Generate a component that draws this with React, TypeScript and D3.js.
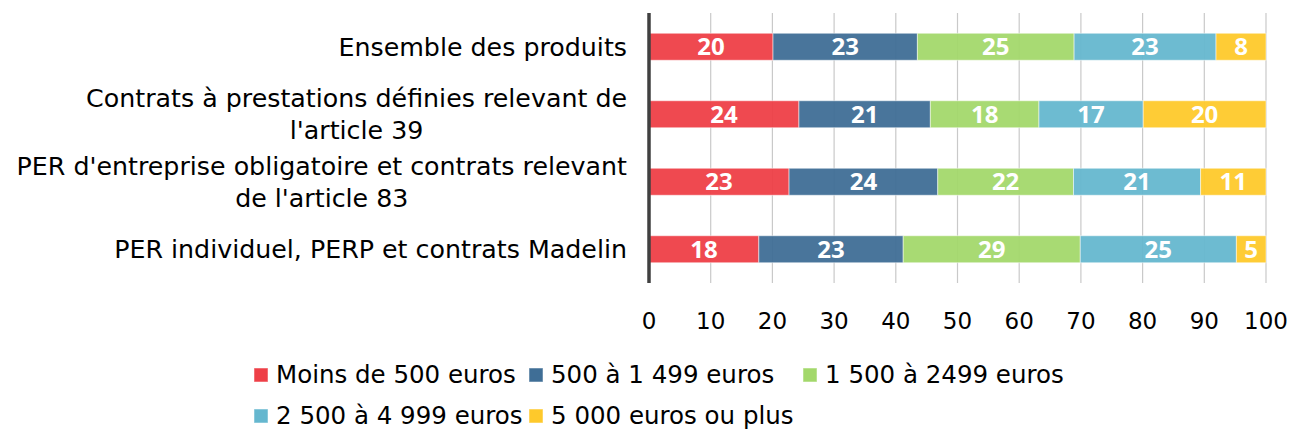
import React, { useRef, useEffect } from 'react';
import * as d3 from 'd3';

const categories = [
  "Ensemble des produits",
  "Contrats à prestations définies relevant de l'article 39",
  "PER d'entreprise obligatoire et contrats relevant de l'article 83",
  "PER individuel, PERP et contrats Madelin",
];
const categoryLines = [
  ["Ensemble des produits"],
  ["Contrats à prestations définies relevant de", "l'article 39"],
  ["PER d'entreprise obligatoire et contrats relevant", "de l'article 83"],
  ["PER individuel, PERP et contrats Madelin"],
];

const seriesNames = [
  "Moins de 500 euros",
  "500 à 1 499 euros",
  "1 500 à 2499 euros",
  "2 500 à 4 999 euros",
  "5 000 euros ou plus",
];
const seriesColors = ["#ee3f47", "#3f6e96", "#a3d86b", "#65b7cf", "#fec92b"];

const lessThan500 = [20.1, 24.3, 22.7, 17.8];
const from500 = [23.4, 21.3, 24.1, 23.4];
const from1500 = [25.4, 17.6, 22.0, 28.7];
const from2500 = [23.0, 16.9, 20.6, 25.3];
const over5000 = [8.1, 19.9, 10.6, 4.8];

const xTicks = [0, 10, 20, 30, 40, 50, 60, 70, 80, 90, 100];

const FONT = "'DejaVu Sans', sans-serif";
const LABEL_FONT = "'Open Sans', sans-serif";
const W = 1291;
const H = 432;

const App: React.FC = () => {
  const ref = useRef<SVGSVGElement | null>(null);

  useEffect(() => {
    const svg = d3.select(ref.current);
    svg.selectAll("*").remove();

    const allSeries = [lessThan500, from500, from1500, from2500, over5000];
    const rows = categories.map((c, i) => {
      const r: Record<string, number | string> = { category: c };
      seriesNames.forEach((s, j) => (r[s] = allSeries[j][i]));
      return r;
    });
    const stacked = d3.stack<any>().keys(seriesNames)(rows);

    const x = d3.scaleLinear().domain([0, 100]).range([649, 1266]);
    const y = d3.scaleBand<string>()
      .domain(categories)
      .range([13, 283])
      .paddingInner(0.6)
      .paddingOuter(0.3);

    // gridlines
    svg.append("g")
      .selectAll("line")
      .data(xTicks.slice(1))
      .join("line")
      .attr("x1", (d) => x(d))
      .attr("x2", (d) => x(d))
      .attr("y1", 13)
      .attr("y2", 283)
      .attr("stroke", "#c9c9c9")
      .attr("stroke-width", 1.2);

    // bars
    stacked.forEach((layer, j) => {
      const g = svg.append("g");
      g.selectAll("rect")
        .data(layer)
        .join("rect")
        .attr("x", (d) => x(d[0]))
        .attr("y", (d) => y(d.data.category as string)!)
        .attr("width", (d) => x(d[1]) - x(d[0]))
        .attr("height", y.bandwidth())
        .attr("fill", seriesColors[j])
        .attr("fill-opacity", 0.95)
        .attr("stroke", "#ffffff")
        .attr("stroke-opacity", 0.5)
        .attr("stroke-width", 1);

      g.selectAll("text")
        .data(layer)
        .join("text")
        .attr("x", (d) => (x(d[0]) + x(d[1])) / 2)
        .attr("y", (d) => y(d.data.category as string)! + y.bandwidth() / 2)
        .attr("dy", "0.36em")
        .attr("text-anchor", "middle")
        .attr("fill", "#ffffff")
        .style("font-family", LABEL_FONT)
        .style("font-weight", "bold")
        .style("font-size", "24px")
        .text((d) => Math.round(d[1] - d[0]));
    });

    // axis line
    svg.append("line")
      .attr("x1", 649)
      .attr("x2", 649)
      .attr("y1", 13)
      .attr("y2", 283)
      .attr("stroke", "#404040")
      .attr("stroke-width", 3.5);

    // x tick labels
    svg.append("g")
      .selectAll("text")
      .data(xTicks)
      .join("text")
      .attr("x", (d) => x(d))
      .attr("y", 329)
      .attr("text-anchor", "middle")
      .attr("fill", "#000")
      .style("font-family", FONT)
      .style("font-size", "23px")
      .text((d) => d);

    // category labels
    const labelRight = 627;
    categories.forEach((c, i) => {
      const lines = categoryLines[i];
      const cy = y(c)! + y.bandwidth() / 2;
      const lh = 32;
      const g = svg.append("g");
      const first = g.append("text")
        .attr("x", labelRight)
        .attr("y", cy - ((lines.length - 1) * lh) / 2)
        .attr("dy", "0.36em")
        .attr("text-anchor", "end")
        .style("font-family", FONT)
        .style("font-size", "25.3px")
        .text(lines[0]);
      if (lines.length > 1) {
        const w = (first.node() as SVGTextElement).getComputedTextLength();
        g.append("text")
          .attr("x", labelRight - w / 2)
          .attr("y", cy + lh / 2)
          .attr("dy", "0.36em")
          .attr("text-anchor", "middle")
          .style("font-family", FONT)
          .style("font-size", "25.3px")
          .text(lines[1]);
      }
    });

    // legend
    const legendPos = [
      [254, 374], [529, 374], [803, 374],
      [254, 415], [529, 415],
    ];
    seriesNames.forEach((s, j) => {
      const [lx, ly] = legendPos[j];
      svg.append("rect")
        .attr("x", lx)
        .attr("y", ly - 6)
        .attr("width", 14)
        .attr("height", 14)
        .attr("fill", seriesColors[j])
        .attr("stroke", "#ffffff")
        .attr("stroke-opacity", 0.5);
      svg.append("text")
        .attr("x", lx + 22)
        .attr("y", ly)
        .attr("dy", "0.36em")
        .style("font-family", FONT)
        .style("font-size", "24.5px")
        .text(s);
    });
  }, []);

  return (
    <svg
      ref={ref}
      width={W}
      height={H}
      style={{ position: "absolute", left: 0, top: 0, background: "#fff" }}
    />
  );
};

export default App;
